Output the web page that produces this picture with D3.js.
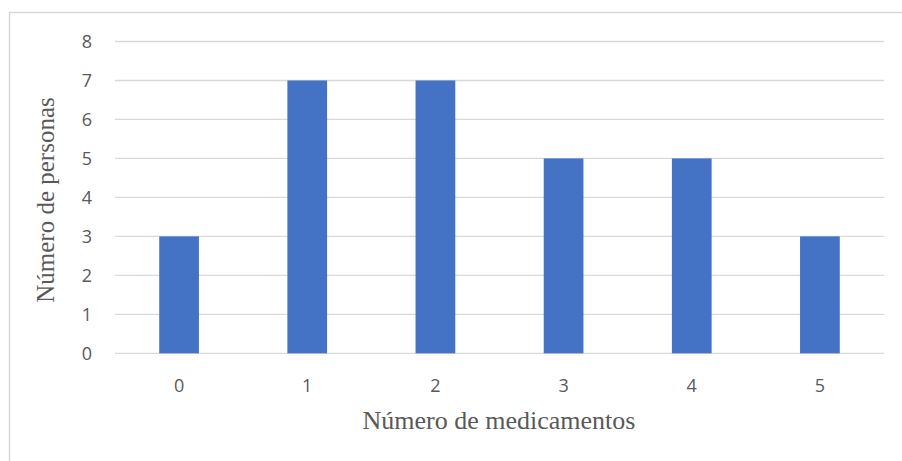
<!DOCTYPE html>
<html><head><meta charset="utf-8">
<script src="https://cdn.jsdelivr.net/npm/d3@7"></script>
<style>body{margin:0;background:#fff}svg{display:block}</style>
</head><body><svg id="c" width="902" height="461"></svg>
<script>
const categories = ["0","1","2","3","4","5"];
const values = [3,7,7,5,5,3];
const yTicks = [0,1,2,3,4,5,6,7,8];
const xTitle = "Número de medicamentos";
const yTitle = "Número de personas";

(function(){
const svg = d3.select("#c");
svg.append("rect").attr("x",9.5).attr("y",12.5).attr("width",1000).attr("height",1000)
  .attr("fill","none").attr("stroke","#d9d9d9").attr("stroke-width",1.5);

const pL=115, pR=884, pT=41.5, pB=353.3;
const x = d3.scaleBand().domain(categories).range([pL,pR]).paddingInner(0.69).paddingOuter(0.345);
const y = d3.scaleLinear().domain([0,8]).range([pB,pT]);

svg.append("g").selectAll("line").data(yTicks).join("line")
  .attr("x1",pL).attr("x2",pR).attr("y1",d=>y(d)).attr("y2",d=>y(d))
  .attr("stroke","#d9d9d9").attr("stroke-width",1.3);

svg.append("g").selectAll("rect").data(values).join("rect")
  .attr("x",(d,i)=>x(categories[i])).attr("width",x.bandwidth())
  .attr("y",d=>y(d)).attr("height",d=>y(0)-y(d)).attr("fill","#4472c4");

const yAxis = svg.append("g").attr("transform",`translate(${pL},0)`)
  .call(d3.axisLeft(y).tickValues(yTicks).tickSize(0).tickPadding(23).tickFormat(d3.format("d")));
yAxis.select(".domain").remove();
yAxis.selectAll("text").attr("font-family","'Open Sans', sans-serif").attr("font-size",18).attr("fill","#595959");

const xAxis = svg.append("g").attr("transform",`translate(0,${pB})`)
  .call(d3.axisBottom(x).tickSize(0).tickPadding(26));
xAxis.select(".domain").remove();
xAxis.selectAll("text").attr("font-family","'Open Sans', sans-serif").attr("font-size",18).attr("fill","#595959");

svg.append("text").attr("x",499).attr("y",429).attr("text-anchor","middle")
  .attr("font-family","'Liberation Serif', serif").attr("font-size",26).attr("fill","#595959").text(xTitle);
svg.append("text").attr("transform",`translate(54,200) rotate(-90)`).attr("text-anchor","middle")
  .attr("font-family","'Liberation Serif', serif").attr("font-size",25).attr("fill","#595959").text(yTitle);
})();
</script></body></html>
